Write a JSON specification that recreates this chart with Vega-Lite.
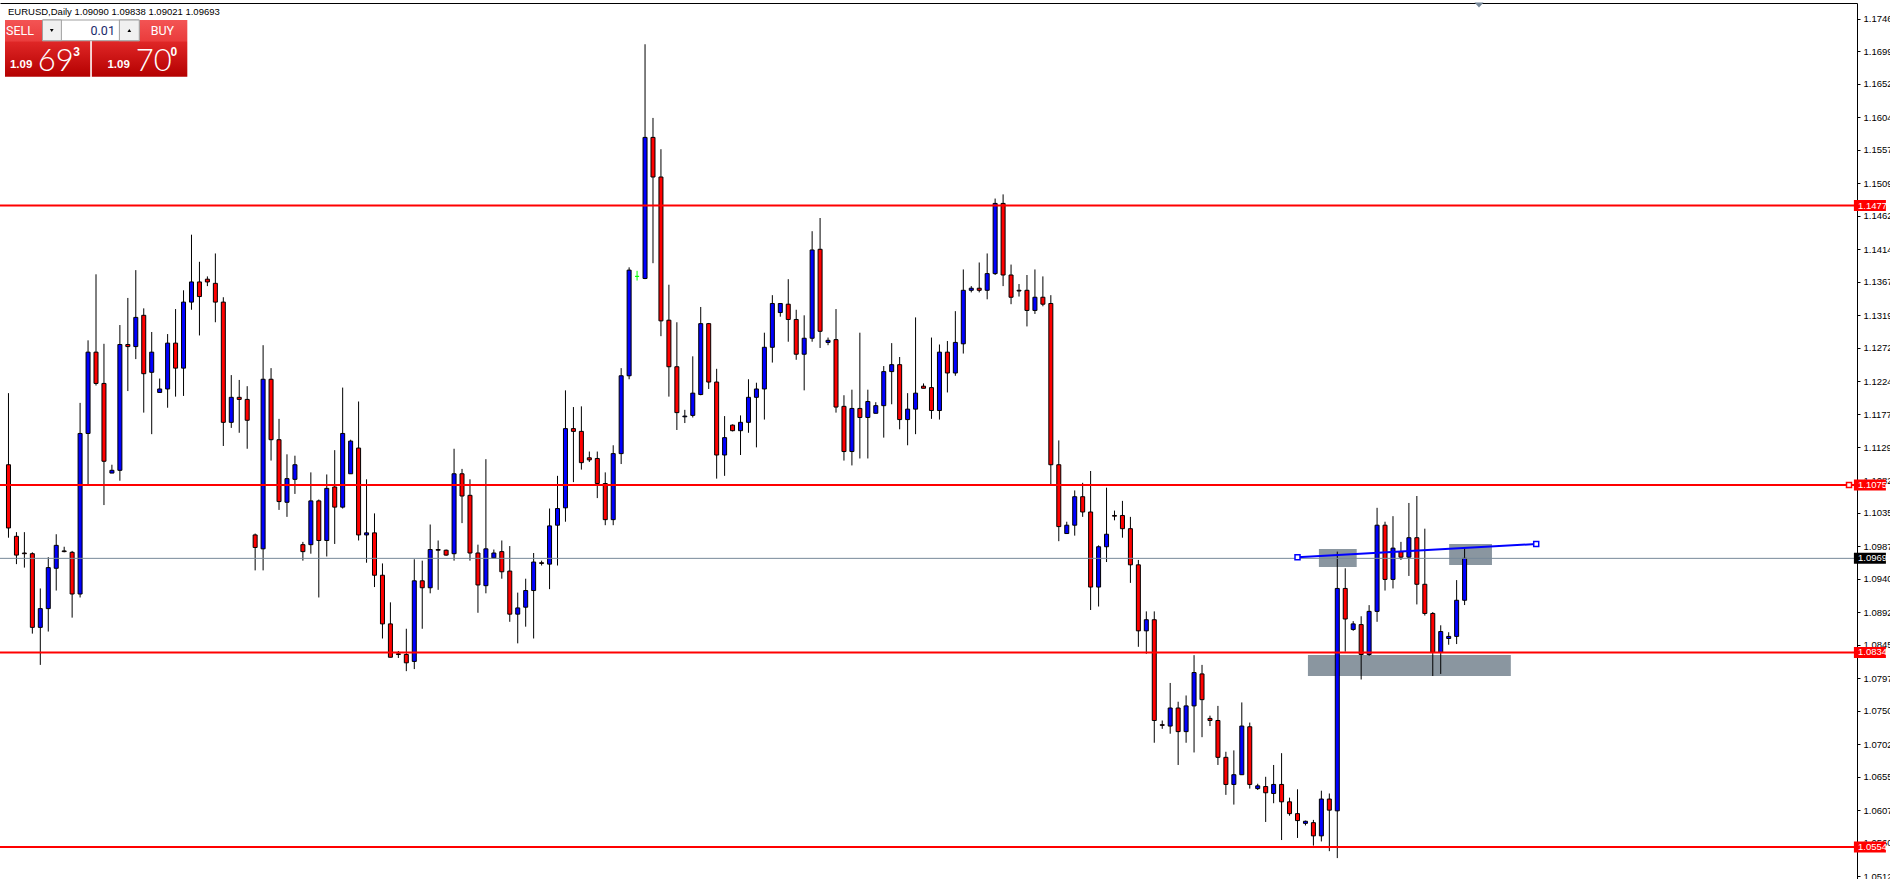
{
"$schema":"https://vega.github.io/schema/vega-lite/v6.json",
"width":1857,"height":876,"autosize":{"type":"none"},
"padding":{"left":0,"top":3,"right":33,"bottom":0},
"background":"#ffffff",
"config":{"view":{"stroke":null}},
"datasets":{
"candles":[
{"i":0,"o":1.1104,"h":1.1207,"l":1.0999,"c":1.1013},
{"i":1,"o":1.1001,"h":1.1007,"l":1.0961,"c":1.0974},
{"i":2,"o":1.0977,"h":1.1007,"l":1.0956,"c":1.0976},
{"i":3,"o":1.0976,"h":1.0978,"l":1.0861,"c":1.0870},
{"i":4,"o":1.0870,"h":1.0926,"l":1.0816,"c":1.0897},
{"i":5,"o":1.0897,"h":1.0971,"l":1.0864,"c":1.0956},
{"i":6,"o":1.0955,"h":1.1004,"l":1.0923,"c":1.0988},
{"i":7,"o":1.0980,"h":1.0986,"l":1.0978,"c":1.0979},
{"i":8,"o":1.0978,"h":1.0980,"l":1.0884,"c":1.0918},
{"i":9,"o":1.0918,"h":1.1193,"l":1.0913,"c":1.1149},
{"i":10,"o":1.1149,"h":1.1283,"l":1.1076,"c":1.1266},
{"i":11,"o":1.1266,"h":1.1378,"l":1.1218,"c":1.1221},
{"i":12,"o":1.1221,"h":1.1278,"l":1.1046,"c":1.1109},
{"i":13,"o":1.1092,"h":1.1104,"l":1.1092,"c":1.1096},
{"i":14,"o":1.1096,"h":1.1305,"l":1.1081,"c":1.1277},
{"i":15,"o":1.1277,"h":1.1344,"l":1.1210,"c":1.1274},
{"i":16,"o":1.1274,"h":1.1384,"l":1.1256,"c":1.1316},
{"i":17,"o":1.1319,"h":1.1329,"l":1.1179,"c":1.1235},
{"i":18,"o":1.1237,"h":1.1295,"l":1.1148,"c":1.1266},
{"i":19,"o":1.1208,"h":1.1228,"l":1.1208,"c":1.1213},
{"i":20,"o":1.1213,"h":1.1292,"l":1.1186,"c":1.1279},
{"i":21,"o":1.1279,"h":1.1328,"l":1.1202,"c":1.1243},
{"i":22,"o":1.1243,"h":1.1355,"l":1.1203,"c":1.1338},
{"i":23,"o":1.1338,"h":1.1435,"l":1.1327,"c":1.1367},
{"i":24,"o":1.1367,"h":1.1396,"l":1.1290,"c":1.1346},
{"i":25,"o":1.1371,"h":1.1375,"l":1.1361,"c":1.1367},
{"i":26,"o":1.1365,"h":1.1408,"l":1.1309,"c":1.1338},
{"i":27,"o":1.1338,"h":1.1345,"l":1.1131,"c":1.1165},
{"i":28,"o":1.1165,"h":1.1233,"l":1.1157,"c":1.1201},
{"i":29,"o":1.1201,"h":1.1226,"l":1.1150,"c":1.1198},
{"i":30,"o":1.1198,"h":1.1217,"l":1.1127,"c":1.1168},
{"i":31,"o":1.1003,"h":1.1005,"l":1.0952,"c":1.0985},
{"i":32,"o":1.0983,"h":1.1276,"l":1.0952,"c":1.1227},
{"i":33,"o":1.1227,"h":1.1243,"l":1.1110,"c":1.1140},
{"i":34,"o":1.1140,"h":1.1170,"l":1.1039,"c":1.1051},
{"i":35,"o":1.1050,"h":1.1119,"l":1.1029,"c":1.1084},
{"i":36,"o":1.1083,"h":1.1117,"l":1.1062,"c":1.1104},
{"i":37,"o":1.0989,"h":1.0993,"l":1.0966,"c":1.0979},
{"i":38,"o":1.0989,"h":1.1093,"l":1.0976,"c":1.1052},
{"i":39,"o":1.1052,"h":1.1054,"l":1.0913,"c":1.0995},
{"i":40,"o":1.0995,"h":1.1090,"l":1.0972,"c":1.1070},
{"i":41,"o":1.1072,"h":1.1125,"l":1.0990,"c":1.1043},
{"i":42,"o":1.1043,"h":1.1215,"l":1.1041,"c":1.1149},
{"i":43,"o":1.1091,"h":1.1140,"l":1.1091,"c":1.1138},
{"i":44,"o":1.1128,"h":1.1195,"l":1.0995,"c":1.1003},
{"i":45,"o":1.1003,"h":1.1083,"l":1.0963,"c":1.1006},
{"i":46,"o":1.1006,"h":1.1034,"l":1.0928,"c":1.0945},
{"i":47,"o":1.0945,"h":1.0962,"l":1.0854,"c":1.0875},
{"i":48,"o":1.0875,"h":1.0906,"l":1.0827,"c":1.0827},
{"i":49,"o":1.0832,"h":1.0836,"l":1.0826,"c":1.0831},
{"i":50,"o":1.0831,"h":1.0868,"l":1.0807,"c":1.0819},
{"i":51,"o":1.0821,"h":1.0968,"l":1.0810,"c":1.0937},
{"i":52,"o":1.0937,"h":1.0966,"l":1.0868,"c":1.0927},
{"i":53,"o":1.0927,"h":1.1018,"l":1.0919,"c":1.0982},
{"i":54,"o":1.0982,"h":1.0995,"l":1.0924,"c":1.0981},
{"i":55,"o":1.0981,"h":1.0982,"l":1.0973,"c":1.0974},
{"i":56,"o":1.0976,"h":1.1127,"l":1.0966,"c":1.1091},
{"i":57,"o":1.1091,"h":1.1098,"l":1.1020,"c":1.1059},
{"i":58,"o":1.1060,"h":1.1083,"l":1.0966,"c":1.0977},
{"i":59,"o":1.0977,"h":1.0989,"l":1.0891,"c":1.0931},
{"i":60,"o":1.0930,"h":1.1112,"l":1.0919,"c":1.0983},
{"i":61,"o":1.0970,"h":1.0982,"l":1.0970,"c":1.0977},
{"i":62,"o":1.0979,"h":1.0995,"l":1.0940,"c":1.0950},
{"i":63,"o":1.0951,"h":1.0987,"l":1.0878,"c":1.0889},
{"i":64,"o":1.0889,"h":1.0920,"l":1.0847,"c":1.0898},
{"i":65,"o":1.0899,"h":1.0940,"l":1.0871,"c":1.0923},
{"i":66,"o":1.0923,"h":1.0977,"l":1.0854,"c":1.0964},
{"i":67,"o":1.0963,"h":1.0966,"l":1.0959,"c":1.0962},
{"i":68,"o":1.0961,"h":1.1041,"l":1.0925,"c":1.1016},
{"i":69,"o":1.1017,"h":1.1088,"l":1.0959,"c":1.1041},
{"i":70,"o":1.1042,"h":1.1211,"l":1.1022,"c":1.1156},
{"i":71,"o":1.1156,"h":1.1187,"l":1.1079,"c":1.1152},
{"i":72,"o":1.1152,"h":1.1188,"l":1.1097,"c":1.1107},
{"i":73,"o":1.1114,"h":1.1123,"l":1.1108,"c":1.1111},
{"i":74,"o":1.1113,"h":1.1123,"l":1.1056,"c":1.1077},
{"i":75,"o":1.1077,"h":1.1093,"l":1.1017,"c":1.1025},
{"i":76,"o":1.1025,"h":1.1132,"l":1.1017,"c":1.1120},
{"i":77,"o":1.1120,"h":1.1243,"l":1.1105,"c":1.1232},
{"i":78,"o":1.1232,"h":1.1388,"l":1.1227,"c":1.1384},
{"i":79,"o":1.1375,"h":1.1383,"l":1.1369,"c":1.1375},
{"i":80,"o":1.1372,"h":1.1709,"l":1.1371,"c":1.1575},
{"i":81,"o":1.1575,"h":1.1603,"l":1.1394,"c":1.1518},
{"i":82,"o":1.1518,"h":1.1558,"l":1.1289,"c":1.1311},
{"i":83,"o":1.1312,"h":1.1363,"l":1.1202,"c":1.1245},
{"i":84,"o":1.1245,"h":1.1309,"l":1.1154,"c":1.1179},
{"i":85,"o":1.1173,"h":1.1183,"l":1.1164,"c":1.1174},
{"i":86,"o":1.1175,"h":1.1260,"l":1.1172,"c":1.1207},
{"i":87,"o":1.1205,"h":1.1331,"l":1.1204,"c":1.1307},
{"i":88,"o":1.1307,"h":1.1308,"l":1.1213,"c":1.1223},
{"i":89,"o":1.1223,"h":1.1242,"l":1.1084,"c":1.1118},
{"i":90,"o":1.1118,"h":1.1174,"l":1.1088,"c":1.1143},
{"i":91,"o":1.1161,"h":1.1162,"l":1.1152,"c":1.1153},
{"i":92,"o":1.1153,"h":1.1175,"l":1.1118,"c":1.1165},
{"i":93,"o":1.1165,"h":1.1227,"l":1.1150,"c":1.1201},
{"i":94,"o":1.1201,"h":1.1222,"l":1.1129,"c":1.1213},
{"i":95,"o":1.1213,"h":1.1294,"l":1.1169,"c":1.1273},
{"i":96,"o":1.1273,"h":1.1348,"l":1.1251,"c":1.1336},
{"i":97,"o":1.1323,"h":1.1336,"l":1.1317,"c":1.1336},
{"i":98,"o":1.1335,"h":1.1371,"l":1.1281,"c":1.1313},
{"i":99,"o":1.1313,"h":1.1327,"l":1.1255,"c":1.1263},
{"i":100,"o":1.1263,"h":1.1319,"l":1.1211,"c":1.1286},
{"i":101,"o":1.1286,"h":1.1440,"l":1.1281,"c":1.1413},
{"i":102,"o":1.1414,"h":1.1459,"l":1.1272,"c":1.1296},
{"i":103,"o":1.1280,"h":1.1287,"l":1.1276,"c":1.1283},
{"i":104,"o":1.1284,"h":1.1328,"l":1.1179,"c":1.1187},
{"i":105,"o":1.1188,"h":1.1204,"l":1.1110,"c":1.1123},
{"i":106,"o":1.1123,"h":1.1212,"l":1.1103,"c":1.1185},
{"i":107,"o":1.1185,"h":1.1294,"l":1.1113,"c":1.1172},
{"i":108,"o":1.1172,"h":1.1212,"l":1.1113,"c":1.1195},
{"i":109,"o":1.1178,"h":1.1194,"l":1.1178,"c":1.1189},
{"i":110,"o":1.1189,"h":1.1246,"l":1.1143,"c":1.1238},
{"i":111,"o":1.1238,"h":1.1279,"l":1.1191,"c":1.1248},
{"i":112,"o":1.1248,"h":1.1259,"l":1.1155,"c":1.1169},
{"i":113,"o":1.1169,"h":1.1207,"l":1.1132,"c":1.1184},
{"i":114,"o":1.1184,"h":1.1316,"l":1.1148,"c":1.1207},
{"i":115,"o":1.1217,"h":1.1221,"l":1.1214,"c":1.1214},
{"i":116,"o":1.1215,"h":1.1287,"l":1.1170,"c":1.1182},
{"i":117,"o":1.1182,"h":1.1277,"l":1.1169,"c":1.1266},
{"i":118,"o":1.1266,"h":1.1282,"l":1.1208,"c":1.1236},
{"i":119,"o":1.1236,"h":1.1325,"l":1.1232,"c":1.1280},
{"i":120,"o":1.1278,"h":1.1385,"l":1.1264,"c":1.1355},
{"i":121,"o":1.1355,"h":1.1361,"l":1.1352,"c":1.1358},
{"i":122,"o":1.1358,"h":1.1395,"l":1.1352,"c":1.1355},
{"i":123,"o":1.1355,"h":1.1408,"l":1.1342,"c":1.1379},
{"i":124,"o":1.1379,"h":1.1487,"l":1.1377,"c":1.1480},
{"i":125,"o":1.1480,"h":1.1493,"l":1.1361,"c":1.1377},
{"i":126,"o":1.1377,"h":1.1392,"l":1.1335,"c":1.1345},
{"i":127,"o":1.1355,"h":1.1364,"l":1.1346,"c":1.1354},
{"i":128,"o":1.1355,"h":1.1377,"l":1.1303,"c":1.1326},
{"i":129,"o":1.1326,"h":1.1385,"l":1.1321,"c":1.1345},
{"i":130,"o":1.1345,"h":1.1375,"l":1.1332,"c":1.1335},
{"i":131,"o":1.1336,"h":1.1348,"l":1.1076,"c":1.1104},
{"i":132,"o":1.1104,"h":1.1139,"l":1.0994,"c":1.1015},
{"i":133,"o":1.1005,"h":1.1022,"l":1.1005,"c":1.1017},
{"i":134,"o":1.1017,"h":1.1067,"l":1.1002,"c":1.1058},
{"i":135,"o":1.1058,"h":1.1078,"l":1.1029,"c":1.1036},
{"i":136,"o":1.1036,"h":1.1095,"l":1.0895,"c":1.0928},
{"i":137,"o":1.0928,"h":1.0988,"l":1.0900,"c":1.0986},
{"i":138,"o":1.0986,"h":1.1071,"l":1.0964,"c":1.1004},
{"i":139,"o":1.1031,"h":1.1038,"l":1.1024,"c":1.1030},
{"i":140,"o":1.1031,"h":1.1052,"l":1.0999,"c":1.1012},
{"i":141,"o":1.1012,"h":1.1029,"l":1.0934,"c":1.0960},
{"i":142,"o":1.0960,"h":1.0967,"l":1.0842,"c":1.0865},
{"i":143,"o":1.0865,"h":1.0893,"l":1.0832,"c":1.0881},
{"i":144,"o":1.0881,"h":1.0893,"l":1.0704,"c":1.0736},
{"i":145,"o":1.0730,"h":1.0736,"l":1.0724,"c":1.0729},
{"i":146,"o":1.0728,"h":1.0790,"l":1.0717,"c":1.0754},
{"i":147,"o":1.0754,"h":1.0763,"l":1.0672,"c":1.0720},
{"i":148,"o":1.0720,"h":1.0772,"l":1.0704,"c":1.0757},
{"i":149,"o":1.0757,"h":1.0830,"l":1.0690,"c":1.0805},
{"i":150,"o":1.0803,"h":1.0816,"l":1.0712,"c":1.0766},
{"i":151,"o":1.0739,"h":1.0743,"l":1.0728,"c":1.0736},
{"i":152,"o":1.0736,"h":1.0757,"l":1.0672,"c":1.0683},
{"i":153,"o":1.0683,"h":1.0691,"l":1.0629,"c":1.0644},
{"i":154,"o":1.0644,"h":1.0693,"l":1.0615,"c":1.0658},
{"i":155,"o":1.0658,"h":1.0762,"l":1.0658,"c":1.0728},
{"i":156,"o":1.0727,"h":1.0733,"l":1.0638,"c":1.0644},
{"i":157,"o":1.0638,"h":1.0645,"l":1.0636,"c":1.0642},
{"i":158,"o":1.0641,"h":1.0655,"l":1.0590,"c":1.0632},
{"i":159,"o":1.0631,"h":1.0672,"l":1.0617,"c":1.0644},
{"i":160,"o":1.0644,"h":1.0689,"l":1.0564,"c":1.0619},
{"i":161,"o":1.0619,"h":1.0625,"l":1.0599,"c":1.0602},
{"i":162,"o":1.0602,"h":1.0637,"l":1.0567,"c":1.0592},
{"i":163,"o":1.0588,"h":1.0592,"l":1.0585,"c":1.0591},
{"i":164,"o":1.0589,"h":1.0593,"l":1.0556,"c":1.0570},
{"i":165,"o":1.0570,"h":1.0635,"l":1.0562,"c":1.0623},
{"i":166,"o":1.0623,"h":1.0631,"l":1.0548,"c":1.0607},
{"i":167,"o":1.0606,"h":1.0979,"l":1.0538,"c":1.0926},
{"i":168,"o":1.0926,"h":1.0955,"l":1.0835,"c":1.0882},
{"i":169,"o":1.0867,"h":1.0879,"l":1.0865,"c":1.0875},
{"i":170,"o":1.0874,"h":1.0886,"l":1.0795,"c":1.0831},
{"i":171,"o":1.0831,"h":1.0902,"l":1.0829,"c":1.0893},
{"i":172,"o":1.0893,"h":1.1042,"l":1.0878,"c":1.1017},
{"i":173,"o":1.1017,"h":1.1022,"l":1.0923,"c":1.0939},
{"i":174,"o":1.0939,"h":1.1030,"l":1.0926,"c":1.0984},
{"i":175,"o":1.0979,"h":1.0993,"l":1.0967,"c":1.0971},
{"i":176,"o":1.0971,"h":1.1049,"l":1.0944,"c":1.0999},
{"i":177,"o":1.0999,"h":1.1059,"l":1.0903,"c":1.0932},
{"i":178,"o":1.0932,"h":1.1012,"l":1.0887,"c":1.0890},
{"i":179,"o":1.0890,"h":1.0892,"l":1.0800,"c":1.0834},
{"i":180,"o":1.0834,"h":1.0873,"l":1.0803,"c":1.0864},
{"i":181,"o":1.0854,"h":1.0863,"l":1.0845,"c":1.0857},
{"i":182,"o":1.0857,"h":1.0938,"l":1.0846,"c":1.0909},
{"i":183,"o":1.09090,"h":1.09838,"l":1.09021,"c":1.09693}
],
"levels":[{"p":1.1477},{"p":1.1075},{"p":1.0834},{"p":1.0554}],
"bid":[{"p":1.09693}],
"trend":[{"i":162,"p":1.0971},{"i":192,"p":1.0990}],
"zones":[
{"i1":164.69,"i2":169.44,"p1":1.09827,"p2":1.09568},
{"i1":181.06,"i2":186.44,"p1":1.09899,"p2":1.09597},
{"i1":163.31,"i2":188.81,"p1":1.08302,"p2":1.08000}
]
},
"layer":[
{"data":{"name":"zones"},"mark":{"type":"rect","fill":"#8a96a0"},
 "encoding":{
  "x":{"field":"i1","type":"quantitative","scale":{"domain":[-0.4375,231.6875],"nice":false,"zero":false},
       "axis":{"orient":"top","labels":false,"ticks":false,"grid":false,"title":null,"domainColor":"#000000","domainWidth":1}},
  "x2":{"field":"i2"},
  "y":{"field":"p1","type":"quantitative","scale":{"domain":[1.050794,1.176837],"nice":false,"zero":false},
       "axis":{"orient":"right","title":null,"grid":false,"format":".4f","tickCount":60,
         "values":[1.1746,1.1699,1.1652,1.1604,1.1557,1.1509,1.1462,1.1414,1.1367,1.1319,1.1272,1.1224,1.1177,1.1129,1.1082,1.1035,1.0987,1.0940,1.0892,1.0845,1.0797,1.0750,1.0702,1.0655,1.0607,1.0560,1.0512],
         "labelFont":"Liberation Sans","labelFontSize":9.5,"labelColor":"#000000","tickColor":"#000000","tickSize":3,"labelPadding":3,
         "domainColor":"#000000","domainWidth":1,"labelOverlap":false,"labelBound":false,"labelFlush":false}},
  "y2":{"field":"p2"}}},
{"data":{"name":"candles"},"mark":{"type":"rule","strokeWidth":1},
 "encoding":{
  "x":{"field":"i","type":"quantitative"},
  "y":{"field":"l","type":"quantitative"},
  "y2":{"field":"h"},
  "color":{"condition":{"test":"datum.o === datum.c","value":"#00ff00"},"value":"#000000"}}},
{"data":{"name":"candles"},"mark":{"type":"bar","width":4,"strokeWidth":1,"orient":"vertical"},
 "encoding":{
  "x":{"field":"i","type":"quantitative"},
  "y":{"field":"o","type":"quantitative"},
  "y2":{"field":"c"},
  "fill":{"condition":{"test":"datum.c > datum.o","value":"#0000ff"},"value":"#ff0000"},
  "stroke":{"condition":{"test":"datum.o === datum.c","value":"#00ff00"},"value":"#000000"}}},
{"data":{"name":"levels"},"mark":{"type":"rule","color":"#ff0000","strokeWidth":2},
 "encoding":{"y":{"field":"p","type":"quantitative"}}},
{"data":{"name":"bid"},"mark":{"type":"rule","color":"#778899","strokeWidth":1},
 "encoding":{"y":{"field":"p","type":"quantitative"}}},
{"data":{"name":"trend"},"mark":{"type":"line","color":"#0000ff","strokeWidth":2},
 "encoding":{
  "x":{"field":"i","type":"quantitative"},
  "y":{"field":"p","type":"quantitative"}}},
{"data":{"name":"trend"},"mark":{"type":"point","shape":"square","size":25,"filled":true,"fill":"#ffffff","stroke":"#0000ff","strokeWidth":1.5,"opacity":1},
 "encoding":{
  "x":{"field":"i","type":"quantitative"},
  "y":{"field":"p","type":"quantitative"}}},
{"data":{"values":[{}]},"mark":{"type":"point","shape":"square","size":25,"filled":true,"fill":"#ffffff","stroke":"#ff0000","strokeWidth":1.5,"opacity":1},
 "encoding":{
  "x":{"datum":231.3125,"type":"quantitative"},
  "y":{"datum":1.1075,"type":"quantitative"}}},
{"data":{"name":"levels"},"mark":{"type":"tick","orient":"horizontal","size":32,"thickness":11,"color":"#ff0000","opacity":1},
 "encoding":{
  "x":{"datum":233.9375,"type":"quantitative"},
  "y":{"field":"p","type":"quantitative"}}},
{"data":{"name":"levels"},"mark":{"type":"text","align":"left","baseline":"middle","color":"#ffffff","font":"Liberation Sans","fontSize":9.5},
 "encoding":{
  "x":{"datum":232.4375,"type":"quantitative"},
  "y":{"field":"p","type":"quantitative"},
  "text":{"field":"p","format":".4f"}}},
{"data":{"name":"bid"},"mark":{"type":"tick","orient":"horizontal","size":32,"thickness":11,"color":"#000000","opacity":1},
 "encoding":{
  "x":{"datum":233.9375,"type":"quantitative"},
  "y":{"field":"p","type":"quantitative"}}},
{"data":{"name":"bid"},"mark":{"type":"text","align":"left","baseline":"middle","color":"#ffffff","font":"Liberation Sans","fontSize":9.5},
 "encoding":{
  "x":{"datum":232.4375,"type":"quantitative"},
  "y":{"field":"p","type":"quantitative"},
  "text":{"field":"p","format":".4f"}}},
{"data":{"values":[{}]},"mark":{"type":"point","shape":"M-1,-0.55L1,-0.55L0,0.55Z","size":81,"filled":true,"color":"#778899","opacity":1},
 "encoding":{
  "x":{"datum":184.8125,"type":"quantitative"},
  "y":{"datum":1.17655,"type":"quantitative"}}},
{"data":{"values":[{}]},"mark":{"type":"text","align":"left","baseline":"alphabetic","color":"#000000","font":"Liberation Sans","fontSize":9.5,"text":"EURUSD,Daily  1.09090 1.09838 1.09021 1.09693"},
 "encoding":{
  "x":{"datum":-0.0625,"type":"quantitative"},
  "y":{"datum":1.17518,"type":"quantitative"}}},
{"data":{"values":[{}]},"mark":{"type":"rect","fill":{"gradient":"linear","x1":0,"y1":0,"x2":0,"y2":1,"stops":[{"offset":0,"color":"#f35454"},{"offset":0.37,"color":"#ea3c3c"},{"offset":0.39,"color":"#df2626"},{"offset":1,"color":"#b40000"}]}},
 "encoding":{
  "x":{"datum":-0.4375,"type":"quantitative"},
  "x2":{"datum":10.275},
  "y":{"datum":1.17439,"type":"quantitative"},
  "y2":{"datum":1.16623}}},
{"data":{"values":[{}]},"mark":{"type":"rect","fill":{"gradient":"linear","x1":0,"y1":0,"x2":0,"y2":1,"stops":[{"offset":0,"color":"#f35454"},{"offset":0.37,"color":"#ea3c3c"},{"offset":0.39,"color":"#df2626"},{"offset":1,"color":"#b40000"}]}},
 "encoding":{
  "x":{"datum":10.475,"type":"quantitative"},
  "x2":{"datum":22.475},
  "y":{"datum":1.17439,"type":"quantitative"},
  "y2":{"datum":1.16623}}},
{"data":{"values":[{}]},"mark":{"type":"rect","fill":"#ffffff","stroke":"#a0a0a0","strokeWidth":1},
 "encoding":{
  "x":{"datum":4.275,"type":"quantitative"},
  "x2":{"datum":16.4375},
  "y":{"datum":1.17439,"type":"quantitative"},
  "y2":{"datum":1.17141}}},
{"data":{"values":[{}]},"mark":{"type":"rect","fill":"#f0f0f0","stroke":"#a0a0a0","strokeWidth":1},
 "encoding":{
  "x":{"datum":4.275,"type":"quantitative"},
  "x2":{"datum":6.65},
  "y":{"datum":1.17439,"type":"quantitative"},
  "y2":{"datum":1.17141}}},
{"data":{"values":[{}]},"mark":{"type":"rect","fill":"#f0f0f0","stroke":"#a0a0a0","strokeWidth":1},
 "encoding":{
  "x":{"datum":13.9375,"type":"quantitative"},
  "x2":{"datum":16.4375},
  "y":{"datum":1.17439,"type":"quantitative"},
  "y2":{"datum":1.17141}}},
{"data":{"values":[{}]},"mark":{"type":"point","shape":"triangle-down","size":14,"filled":true,"color":"#000000","opacity":1},
 "encoding":{
  "x":{"datum":5.4375,"type":"quantitative"},
  "y":{"datum":1.17288,"type":"quantitative"}}},
{"data":{"values":[{}]},"mark":{"type":"point","shape":"triangle-up","size":14,"filled":true,"color":"#000000","opacity":1},
 "encoding":{
  "x":{"datum":15.1875,"type":"quantitative"},
  "y":{"datum":1.17288,"type":"quantitative"}}},
{"data":{"values":[{}]},"mark":{"type":"text","align":"right","baseline":"alphabetic","color":"#1a2a6c","font":"Roboto","fontSize":12.5,"text":"0.01"},
 "encoding":{
  "x":{"datum":13.375,"type":"quantitative"},
  "y":{"datum":1.17228,"type":"quantitative"}}},
{"data":{"values":[{}]},"mark":{"type":"text","align":"left","baseline":"alphabetic","color":"#ffffff","font":"Roboto","fontSize":12.5,"text":"SELL"},
 "encoding":{
  "x":{"datum":-0.3125,"type":"quantitative"},
  "y":{"datum":1.17223,"type":"quantitative"}}},
{"data":{"values":[{}]},"mark":{"type":"text","align":"left","baseline":"alphabetic","color":"#ffffff","font":"Roboto","fontSize":12.5,"text":"BUY"},
 "encoding":{
  "x":{"datum":17.875,"type":"quantitative"},
  "y":{"datum":1.17223,"type":"quantitative"}}},
{"data":{"values":[{}]},"mark":{"type":"text","align":"left","baseline":"alphabetic","color":"#ffffff","font":"Liberation Sans","fontWeight":"bold","fontSize":11.5,"text":"1.09"},
 "encoding":{
  "x":{"datum":0.1875,"type":"quantitative"},
  "y":{"datum":1.16744,"type":"quantitative"}}},
{"data":{"values":[{}]},"mark":{"type":"text","align":"left","baseline":"alphabetic","color":"#ffffff","font":"Liberation Sans","fontWeight":"bold","fontSize":11.5,"text":"1.09"},
 "encoding":{
  "x":{"datum":12.4375,"type":"quantitative"},
  "y":{"datum":1.16744,"type":"quantitative"}}},
{"data":{"values":[{}]},"mark":{"type":"text","align":"left","baseline":"alphabetic","color":"#ffffff","font":"Lato","fontWeight":300,"fontSize":31,"text":"69"},
 "encoding":{
  "x":{"datum":3.6875,"type":"quantitative"},
  "y":{"datum":1.16705,"type":"quantitative"}}},
{"data":{"values":[{}]},"mark":{"type":"text","align":"left","baseline":"alphabetic","color":"#ffffff","font":"Lato","fontWeight":300,"fontSize":31,"text":"70"},
 "encoding":{
  "x":{"datum":16.0,"type":"quantitative"},
  "y":{"datum":1.16705,"type":"quantitative"}}},
{"data":{"values":[{}]},"mark":{"type":"text","align":"left","baseline":"alphabetic","color":"#ffffff","font":"Liberation Sans","fontWeight":"bold","fontSize":12,"text":"3"},
 "encoding":{
  "x":{"datum":8.125,"type":"quantitative"},
  "y":{"datum":1.16925,"type":"quantitative"}}},
{"data":{"values":[{}]},"mark":{"type":"text","align":"left","baseline":"alphabetic","color":"#ffffff","font":"Liberation Sans","fontWeight":"bold","fontSize":12,"text":"0"},
 "encoding":{
  "x":{"datum":20.375,"type":"quantitative"},
  "y":{"datum":1.16925,"type":"quantitative"}}}
]
}
